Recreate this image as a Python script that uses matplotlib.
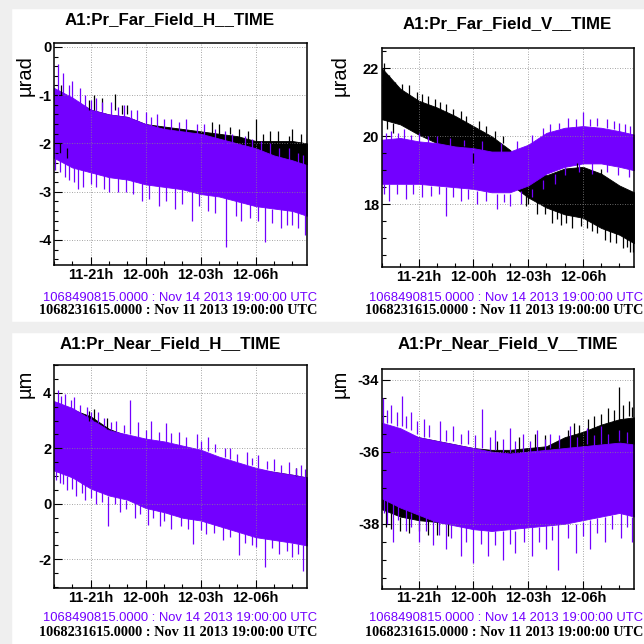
import matplotlib
matplotlib.use("Agg")
import matplotlib.pyplot as plt
from matplotlib.patches import Rectangle
from matplotlib.ticker import MultipleLocator, FixedLocator, FixedFormatter

plt.rcParams["font.family"] = ["Liberation Sans", "DejaVu Sans"]
plt.rcParams["font.weight"] = "bold"
plt.rcParams["axes.unicode_minus"] = False

# hours since Nov 11 2013 19:00 UTC (envelope knots)
hours = [0, 1, 2, 3, 4, 5, 6, 7, 8, 9, 10, 11, 12, 13, 13.8]
tick_hours = [2, 5, 8, 11]
tick_labels = ["11-21h", "12-00h", "12-03h", "12-06h"]

titles = ["A1:Pr_Far_Field_H__TIME", "A1:Pr_Far_Field_V__TIME",
          "A1:Pr_Near_Field_H__TIME", "A1:Pr_Near_Field_V__TIME"]
units = ["µrad", "µrad", "µm", "µm"]
stamp_new = "1068490815.0000 : Nov 14 2013 19:00:00 UTC"
stamp_old = "1068231615.0000 : Nov 11 2013 19:00:00 UTC"

# spikes are (hour, from, to) vertical segments sticking out of the band

# --- far field H ---
ffh_old_hi = [-0.95, -1.1, -1.3, -1.4, -1.45, -1.6, -1.65, -1.7, -1.75, -1.8, -1.85, -1.95, -1.95, -1.95, -2.0]
ffh_old_lo = [-2.05, -2.2, -2.3, -2.4, -2.45, -2.5, -2.6, -2.65, -2.75, -2.8, -2.9, -3.0, -3.05, -3.1, -3.2]
ffh_old_spk = [(2.2, -1.3, -1.0), (3.33, -1.3, -0.97), (8.6, -1.8, -1.55), (11.0, -2.0, -1.49),
               (12.8, -2.1, -1.85), (13.5, -2.1, -1.8), (9.0, -1.8, -1.6), (9.6, -1.8, -1.65),
               (10.1, -1.9, -1.7), (10.6, -1.95, -1.75), (11.4, -2.0, -1.8), (11.8, -2.0, -1.75),
               (12.2, -2.0, -1.75), (13.0, -2.0, -1.7), (13.8, -2.05, -1.8), (0.4, -1.0, -0.8),
               (2.6, -1.3, -1.05), (4.0, -1.4, -1.2), (1.9, -1.3, -1.1), (3.7, -1.4, -1.2),
               (0.3, -2.0, -2.2), (0.7, -2.1, -2.3)]
ffh_new_hi = [-0.85, -1.05, -1.3, -1.4, -1.45, -1.6, -1.7, -1.75, -1.8, -1.9, -2.0, -2.1, -2.25, -2.35, -2.45]
ffh_new_lo = [-2.3, -2.5, -2.6, -2.7, -2.75, -2.85, -2.9, -2.95, -3.05, -3.1, -3.2, -3.3, -3.35, -3.4, -3.5]
ffh_new_spk = [(0.2, -1.2, -0.35), (0.5, -1.2, -0.55), (1.0, -1.3, -0.7), (1.4, -1.4, -0.85),
               (2.3, -1.5, -1.05), (3.1, -1.6, -1.15), (4.5, -1.7, -1.3), (5.6, -1.8, -1.4),
               (6.4, -1.9, -1.5), (7.8, -2.0, -1.6), (9.3, -2.1, -1.75), (10.4, -2.2, -1.85),
               (12.3, -2.5, -2.1), (13.3, -2.6, -2.2),
               (0.8, -1.1, -0.8), (1.7, -1.3, -1.0), (2.0, -1.35, -1.1), (2.6, -1.45, -1.15),
               (3.5, -1.5, -1.25), (3.8, -1.5, -1.2), (4.2, -1.55, -1.3), (5.0, -1.65, -1.35),
               (5.3, -1.7, -1.45), (6.0, -1.75, -1.5), (6.8, -1.8, -1.55), (7.2, -1.8, -1.5),
               (8.2, -1.85, -1.6), (8.8, -1.95, -1.7), (9.7, -2.0, -1.8), (10.8, -2.15, -1.9),
               (11.3, -2.2, -1.95), (11.8, -2.25, -2.0), (12.8, -2.35, -2.1), (13.6, -2.5, -2.25),
               (0.3, -2.2, -2.6), (0.8, -2.3, -2.75), (1.3, -2.4, -2.95), (2.7, -2.5, -2.95),
               (3.5, -2.6, -3.0), (4.8, -2.7, -3.2), (5.7, -2.8, -3.3), (6.6, -2.9, -3.35),
               (7.5, -2.9, -3.6), (8.4, -3.0, -3.4), (9.4, -3.0, -4.15), (10.2, -3.1, -3.6),
               (11.5, -3.2, -4.05), (12.4, -3.3, -3.75), (13.0, -3.3, -3.7), (13.7, -3.4, -3.9),
               (0.05, -2.2, -2.55), (0.6, -2.4, -2.7), (1.1, -2.5, -2.8), (1.6, -2.5, -2.9),
               (2.0, -2.6, -2.85), (2.3, -2.6, -2.9), (3.0, -2.7, -3.0), (3.9, -2.7, -3.0),
               (4.3, -2.75, -3.05), (5.2, -2.85, -3.15), (6.1, -2.9, -3.2), (7.0, -2.95, -3.25),
               (7.9, -3.0, -3.3), (8.8, -3.05, -3.45), (9.9, -3.15, -3.5), (10.7, -3.25, -3.55),
               (11.1, -3.3, -3.6), (11.9, -3.35, -3.65), (12.7, -3.35, -3.7), (13.3, -3.4, -3.75)]

# --- far field V ---
ffv_old_hi = [22.0, 21.4, 21.05, 20.85, 20.6, 20.3, 20.0, 19.6, 19.1, 18.85, 19.05, 19.1, 18.9, 18.55, 18.35]
ffv_old_lo = [20.5, 20.35, 20.05, 19.8, 19.6, 19.45, 19.2, 18.6, 18.2, 17.9, 17.7, 17.6, 17.3, 17.1, 16.85]
ffv_old_spk = [(0.1, 21.5, 22.15), (0.4, 21.3, 21.8), (1.5, 21.0, 21.5), (2.5, 20.8, 21.2),
               (3.5, 20.5, 20.95), (4.6, 20.3, 20.6), (10.7, 18.8, 19.2), (12.0, 18.7, 19.05),
               (0.7, 21.2, 21.6), (1.1, 21.2, 21.55), (1.9, 21.0, 21.3), (2.2, 20.95, 21.25),
               (2.9, 20.8, 21.1), (3.2, 20.7, 21.0), (3.9, 20.5, 20.8), (4.3, 20.4, 20.75),
               (5.3, 20.2, 20.45), (5.7, 20.1, 20.3), (6.2, 19.9, 20.15), (6.6, 19.8, 20.0),
               (0.3, 20.6, 20.2), (0.6, 20.4, 20.1),
               (5.0, 19.5, 19.2), (7.9, 18.3, 17.95), (8.5, 18.1, 17.7), (9.3, 18.0, 17.45),
               (9.8, 17.9, 17.4), (10.4, 17.8, 17.3), (11.5, 17.6, 17.2), (12.5, 17.3, 16.9),
               (13.2, 17.1, 16.7), (13.6, 17.0, 16.6),
               (8.0, 18.3, 18.0), (8.9, 18.0, 17.7), (9.6, 17.85, 17.55), (10.1, 17.75, 17.45),
               (10.9, 17.65, 17.35), (11.2, 17.6, 17.3), (11.8, 17.45, 17.15), (12.2, 17.35, 16.95),
               (12.8, 17.2, 16.85), (13.4, 17.05, 16.75), (13.75, 16.9, 16.6)]
ffv_new_hi = [19.9, 19.95, 19.85, 19.8, 19.7, 19.65, 19.55, 19.55, 19.75, 20.1, 20.25, 20.3, 20.25, 20.15, 20.05]
ffv_new_lo = [18.6, 18.6, 18.6, 18.55, 18.5, 18.45, 18.35, 18.35, 18.55, 18.9, 19.1, 19.2, 19.2, 19.1, 19.0]
ffv_new_spk = [(0.5, 19.9, 20.15), (1.2, 19.9, 20.2), (2.0, 19.8, 20.1), (3.7, 19.7, 19.95),
               (8.8, 19.9, 20.25), (10.2, 20.2, 20.55), (11.0, 20.3, 20.7), (11.8, 20.3, 20.55),
               (13.0, 20.1, 20.4), (13.6, 20.0, 20.3),
               (0.2, 19.9, 20.1), (0.9, 19.9, 20.1), (1.6, 19.85, 20.05), (2.5, 19.8, 20.0),
               (3.0, 19.8, 20.0), (4.5, 19.7, 19.9), (5.5, 19.6, 19.85), (6.5, 19.55, 19.8),
               (7.4, 19.6, 19.85), (8.2, 19.8, 20.05), (9.2, 20.1, 20.35), (9.7, 20.2, 20.4),
               (10.6, 20.25, 20.5), (11.4, 20.3, 20.5), (12.3, 20.25, 20.5), (12.7, 20.2, 20.45),
               (13.3, 20.1, 20.35),
               (0.4, 18.6, 18.1), (1.3, 18.6, 18.15), (2.2, 18.6, 18.2), (3.5, 18.5, 17.65),
               (4.3, 18.5, 18.1), (5.2, 18.4, 18.0), (6.3, 18.3, 17.85), (7.0, 18.3, 17.95),
               (7.6, 18.4, 18.0), (9.5, 18.9, 18.6),
               (0.1, 18.6, 18.3), (0.8, 18.6, 18.3), (1.7, 18.6, 18.3), (2.7, 18.55, 18.25),
               (3.1, 18.55, 18.3), (3.9, 18.5, 18.2), (4.7, 18.45, 18.15), (5.7, 18.4, 18.1),
               (6.7, 18.3, 18.05), (8.2, 18.45, 18.2), (8.8, 18.7, 18.45), (10.0, 19.1, 18.85),
               (10.8, 19.2, 18.95), (11.5, 19.2, 18.9), (12.3, 19.2, 18.95), (12.9, 19.1, 18.85),
               (13.5, 19.05, 18.8)]

# --- near field H ---
nfh_old_hi = [3.65, 3.4, 3.15, 2.7, 2.45, 2.3, 2.2, 2.05, 1.9, 1.65, 1.45, 1.25, 1.15, 1.05, 0.95]
nfh_old_lo = [1.5, 1.25, 0.85, 0.6, 0.45, 0.15, 0.0, -0.2, -0.3, -0.5, -0.7, -0.9, -1.0, -1.1, -1.2]
nfh_old_spk = [(2.2, 3.0, 3.4), (2.9, 2.7, 3.1), (1.9, 3.0, 3.35), (13.2, 1.0, 1.3)]
nfh_new_hi = [3.7, 3.45, 3.05, 2.65, 2.5, 2.35, 2.25, 2.1, 1.95, 1.7, 1.5, 1.3, 1.15, 1.05, 0.95]
nfh_new_lo = [1.2, 0.95, 0.55, 0.3, 0.15, -0.15, -0.3, -0.5, -0.6, -0.8, -1.0, -1.2, -1.3, -1.4, -1.5]
nfh_new_spk = [(0.2, 3.5, 4.1), (0.6, 3.4, 3.95), (1.1, 3.3, 3.85), (1.8, 3.1, 3.5), (2.4, 2.9, 3.3),
               (3.4, 2.6, 3.0), (4.15, 2.5, 3.74), (4.6, 2.4, 2.95), (5.3, 2.3, 3.0), (6.1, 2.2, 2.9),
               (6.8, 2.1, 2.6), (7.8, 2.0, 2.5), (8.4, 1.9, 2.4), (9.6, 1.6, 2.0), (10.5, 1.4, 1.85),
               (11.1, 1.3, 1.75), (12.0, 1.2, 1.6), (12.8, 1.05, 1.5), (13.5, 1.0, 1.4),
               (0.4, 3.6, 3.9), (0.9, 3.4, 3.75), (1.4, 3.2, 3.55), (2.0, 3.0, 3.3), (2.7, 2.8, 3.1),
               (3.1, 2.65, 2.95), (3.8, 2.55, 2.85), (5.0, 2.35, 2.65), (5.7, 2.25, 2.6), (6.4, 2.2, 2.55),
               (7.2, 2.05, 2.4), (8.0, 1.95, 2.25), (8.8, 1.85, 2.15), (9.3, 1.7, 2.0), (10.0, 1.5, 1.8),
               (10.8, 1.4, 1.65), (11.6, 1.25, 1.55), (12.4, 1.1, 1.4), (13.2, 1.0, 1.3), (13.7, 0.95, 1.25),
               (0.3, 1.2, 0.75), (0.7, 1.0, 0.5), (1.2, 0.9, 0.3), (1.7, 0.7, 0.15), (2.3, 0.5, 0.0),
               (2.95, 0.3, -0.8), (3.6, 0.2, -0.3), (4.4, 0.1, -0.5), (5.1, -0.1, -0.75), (5.8, -0.2, -0.8),
               (6.4, -0.3, -0.9), (7.6, -0.5, -1.45), (8.3, -0.6, -1.1), (9.2, -0.8, -1.3),
               (10.1, -1.0, -1.85), (10.8, -1.1, -1.5), (11.5, -1.2, -2.28), (12.3, -1.3, -1.8),
               (13.0, -1.4, -1.9), (13.6, -1.5, -2.43),
               (0.1, 1.2, 0.85), (0.5, 1.1, 0.7), (1.0, 0.95, 0.55), (1.5, 0.8, 0.4), (2.0, 0.55, 0.2),
               (2.6, 0.45, 0.05), (3.3, 0.3, 0.0), (3.9, 0.15, -0.2), (4.7, 0.0, -0.35), (5.4, -0.15, -0.5),
               (6.0, -0.3, -0.6), (6.9, -0.45, -0.8), (7.3, -0.5, -0.9), (8.0, -0.6, -0.95),
               (8.7, -0.7, -1.05), (9.6, -0.9, -1.2), (10.4, -1.05, -1.4), (11.0, -1.2, -1.55),
               (11.9, -1.25, -1.6), (12.7, -1.35, -1.7), (13.3, -1.45, -1.8)]

# --- near field V ---
nfv_old_hi = [-35.3, -35.45, -35.6, -35.7, -35.8, -35.9, -35.95, -35.95, -35.9, -35.85, -35.6, -35.45, -35.25, -35.1, -35.05]
nfv_old_lo = [-37.6, -37.8, -37.9, -37.95, -38.0, -38.0, -38.0, -37.9, -37.8, -37.7, -37.5, -37.3, -37.1, -36.9, -36.8]
nfv_old_spk = [(0.2, -37.6, -38.1), (1.0, -37.8, -38.2), (2.5, -37.9, -38.3), (7.5, -36.0, -35.6),
               (8.4, -35.9, -35.5), (10.5, -35.6, -35.2), (11.6, -35.4, -35.0), (12.4, -35.2, -34.8),
               (13.0, -35.2, -34.2), (13.5, -35.0, -34.6),
               (10.2, -35.7, -35.4), (10.8, -35.5, -35.25), (11.3, -35.45, -35.1), (12.0, -35.3, -34.95),
               (12.7, -35.2, -34.85), (13.2, -35.1, -34.7), (13.7, -35.05, -34.75), (6.3, -35.95, -35.7),
               (8.9, -35.85, -35.55), (0.5, -37.7, -38.15), (1.5, -37.85, -38.25), (2.0, -37.9, -38.2),
               (3.0, -37.95, -38.3), (3.6, -38.0, -38.35)]
nfv_new_hi = [-35.2, -35.35, -35.6, -35.7, -35.8, -35.9, -36.0, -36.05, -36.0, -35.95, -35.9, -35.85, -35.8, -35.75, -35.8]
nfv_new_lo = [-37.3, -37.55, -37.75, -37.95, -38.05, -38.15, -38.2, -38.15, -38.1, -38.05, -38.0, -37.9, -37.8, -37.7, -37.8]
nfv_new_spk = [(0.05, -35.2, -34.5), (0.5, -35.2, -34.7), (1.1, -35.3, -34.45), (1.6, -35.4, -34.9),
               (2.3, -35.6, -35.1), (3.2, -35.7, -35.15), (3.9, -35.7, -35.3), (4.7, -35.8, -35.4),
               (5.5, -35.9, -34.83), (6.2, -35.95, -35.4), (7.0, -36.0, -35.35), (7.7, -36.0, -35.5),
               (8.5, -36.0, -35.4), (9.2, -35.9, -35.5), (10.3, -35.9, -35.3), (11.2, -35.8, -35.35),
               (12.0, -35.8, -35.3), (13.0, -35.7, -35.4),
               (0.3, -35.2, -34.85), (0.8, -35.3, -34.9), (1.3, -35.35, -35.0), (1.9, -35.5, -35.15),
               (2.6, -35.6, -35.25), (3.5, -35.7, -35.4), (4.3, -35.8, -35.5), (5.1, -35.9, -35.55),
               (5.9, -35.95, -35.6), (6.6, -36.0, -35.65), (7.3, -36.05, -35.7), (8.1, -36.0, -35.7),
               (8.9, -35.95, -35.65), (9.7, -35.9, -35.55), (10.7, -35.9, -35.6), (11.6, -35.85, -35.55),
               (12.4, -35.8, -35.5), (13.4, -35.75, -35.45),
               (0.3, -37.3, -38.0), (0.6, -37.4, -38.5), (1.3, -37.6, -38.2), (2.0, -37.7, -38.5),
               (2.8, -37.9, -38.6), (3.5, -38.0, -38.7), (4.3, -38.0, -38.9), (5.0, -38.1, -39.1),
               (5.8, -38.2, -38.9), (6.6, -38.2, -39.0), (7.3, -38.2, -38.8), (8.2, -38.1, -38.9),
               (9.0, -38.0, -38.7), (9.64, -38.0, -39.29), (10.6, -38.0, -38.8), (11.4, -37.9, -38.7),
               (12.2, -37.8, -38.5), (13.1, -37.7, -38.4), (13.7, -37.8, -38.5),
               (0.1, -37.3, -37.7), (0.9, -37.5, -37.9), (1.6, -37.7, -38.1), (2.4, -37.8, -38.2),
               (3.1, -37.95, -38.3), (3.8, -38.0, -38.4), (4.6, -38.1, -38.5), (5.4, -38.15, -38.55),
               (6.2, -38.2, -38.6), (7.0, -38.15, -38.55), (7.8, -38.1, -38.5), (8.6, -38.1, -38.5),
               (9.3, -38.05, -38.45), (10.2, -38.0, -38.4), (11.0, -37.95, -38.35), (11.8, -37.85, -38.25),
               (12.6, -37.75, -38.15), (13.4, -37.75, -38.1)]

PURPLE = "#7300ff"
BLACK = "black"

panels = [
    dict(rect=[0.0839, 0.5885, 0.3928, 0.3447], ylim=(-4.52, 0.08), major=1, minor=0.2,
         old=(ffh_old_lo, ffh_old_hi, ffh_old_spk), new=(ffh_new_lo, ffh_new_hi, ffh_new_spk)),
    dict(rect=[0.5932, 0.5854, 0.3913, 0.3401], ylim=(16.15, 22.6), major=2, minor=0.5,
         old=(ffv_old_lo, ffv_old_hi, ffv_old_spk), new=(ffv_new_lo, ffv_new_hi, ffv_new_spk)),
    dict(rect=[0.0839, 0.0870, 0.3928, 0.3462], ylim=(-3.03, 5.0), major=2, minor=0.5,
         old=(nfh_old_lo, nfh_old_hi, nfh_old_spk), new=(nfh_new_lo, nfh_new_hi, nfh_new_spk)),
    dict(rect=[0.5932, 0.0859, 0.3913, 0.3416], ylim=(-39.8, -33.7), major=2, minor=0.5,
         old=(nfv_old_lo, nfv_old_hi, nfv_old_spk), new=(nfv_new_lo, nfv_new_hi, nfv_new_spk)),
]

fig = plt.figure(figsize=(6.44, 6.44), dpi=100)

# light grey page background showing between the canvases
for r in [(0, 0, 11 / 644, 1), (0, 1 - 8 / 644, 1, 8 / 644), (0, 1 - 332 / 644, 1, 10 / 644)]:
    fig.patches.append(Rectangle(r[:2], r[2], r[3], transform=fig.transFigure,
                                 color="#efefef", zorder=-10))


def draw_series(ax, lo, hi, spikes, color):
    ax.fill_between(hours, lo, hi, color=color, lw=0.6, edgecolor=color)
    ax.vlines([s[0] for s in spikes], [s[1] for s in spikes], [s[2] for s in spikes],
              color=color, lw=0.9)


for i, p in enumerate(panels):
    ax = fig.add_axes(p["rect"])
    draw_series(ax, *p["old"], BLACK)
    draw_series(ax, *p["new"], PURPLE)
    ax.set_xlim(0, 13.8)
    ax.set_ylim(*p["ylim"])
    ax.xaxis.set_major_locator(FixedLocator(tick_hours))
    ax.xaxis.set_major_formatter(FixedFormatter(tick_labels))
    ax.xaxis.set_minor_locator(MultipleLocator(1))
    ax.yaxis.set_major_locator(MultipleLocator(p["major"]))
    ax.yaxis.set_minor_locator(MultipleLocator(p["minor"]))
    ax.tick_params(which="both", direction="in", width=0.8, labelsize=10.5, pad=2)
    ax.tick_params(which="major", length=6)
    ax.tick_params(which="minor", length=3)
    ax.grid(True, which="major", color="#888888", lw=0.6, ls=(0, (1, 2)))
    for s in ax.spines.values():
        s.set_linewidth(1.1)

    cx = 0.264 if i % 2 == 0 else 0.788
    top = i < 2
    ty = (0.970 if i == 0 else 0.963) if top else 0.466
    fig.text(cx, ty, titles[i], ha="center", va="center", fontsize=12.2, fontweight="bold")

    ux = 0.039 if i % 2 == 0 else 0.528
    uy = 0.882 if top else 0.404
    fig.text(ux, uy, units[i], ha="center", va="center", rotation=90,
             fontsize=14.5, fontweight="normal")

    rx = 0.493 if i % 2 == 0 else 0.999
    y1 = 0.538 if top else 0.040
    y2 = 0.518 if top else 0.018
    fig.text(rx, y1, stamp_new, ha="right", va="center", color=PURPLE,
             fontsize=9.4, fontweight="normal")
    fig.text(rx, y2, stamp_old, ha="right", va="center", color=BLACK,
             fontsize=10.3, fontweight="bold", family="Liberation Serif")

fig.savefig("out.png", dpi=100)
